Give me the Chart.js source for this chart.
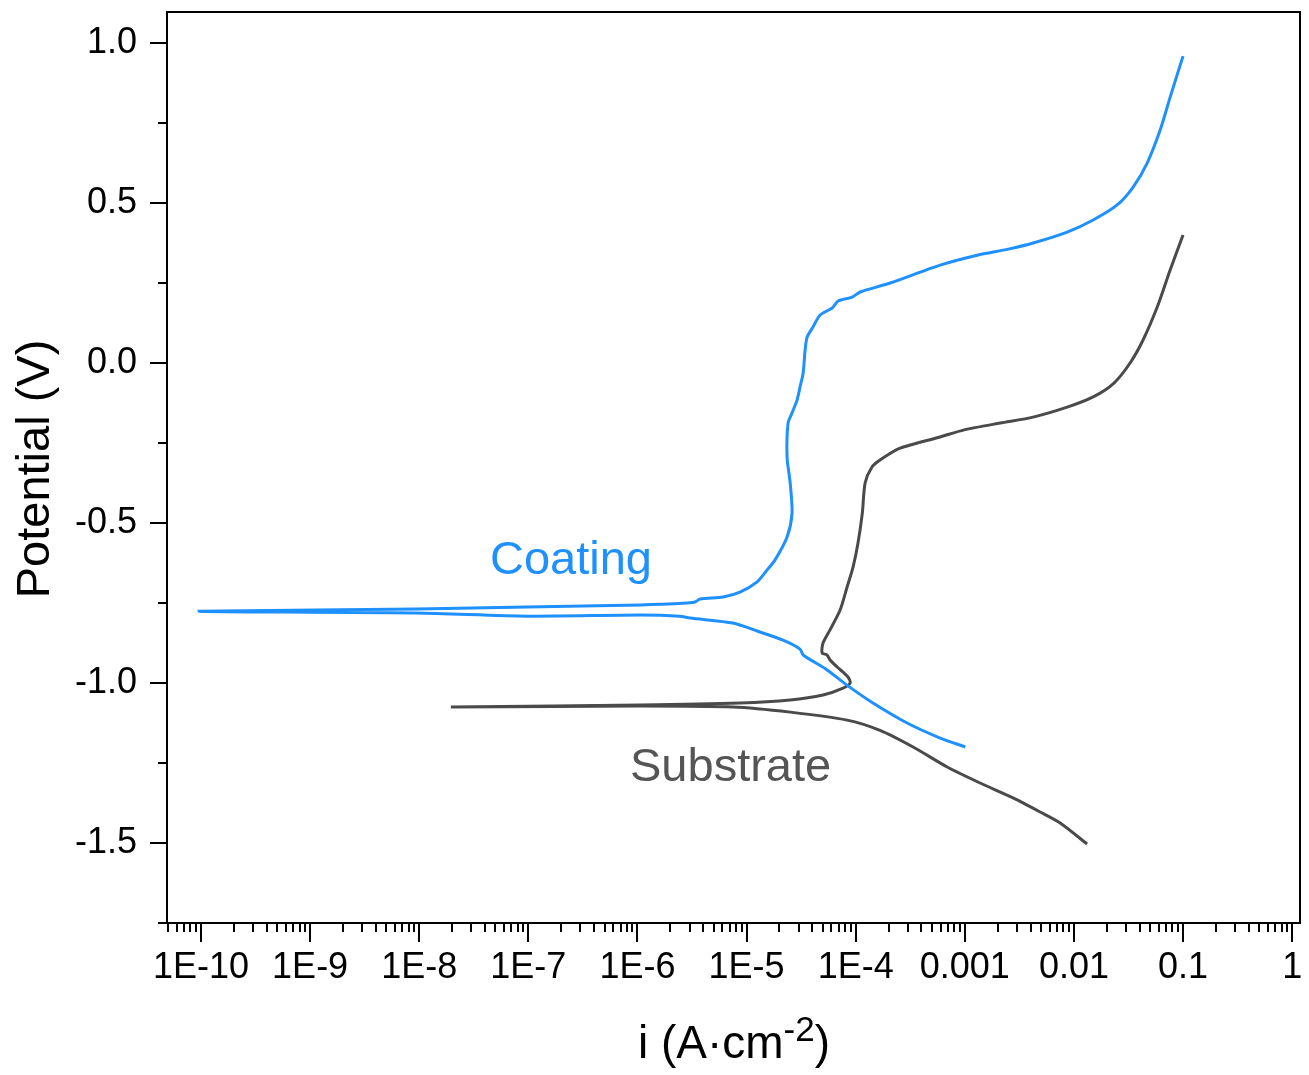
<!DOCTYPE html>
<html>
<head>
<meta charset="utf-8">
<script src="https://cdn.jsdelivr.net/npm/chart.js@4.4.1/dist/chart.umd.min.js"></script>
<style>
  html, body { margin: 0; padding: 0; background: #ffffff; }
  #wrap { width: 1309px; height: 1075px; }
</style>
</head>
<body>
<div id="wrap"><canvas id="c" width="1309" height="1075"></canvas></div>
<script>
// ---- Data (current density in A/cm^2, potential in V), ordered along the scan ----
const coatingI = [1.01e-3, 5.94e-4, 2.96e-4, 1.44e-4, 8.5e-5, 5.47e-5, 3.3e-5, 3.09e-5, 2.16e-5, 1.25e-5,
  7.5e-6, 3.03e-6, 2.45e-6, 1.06e-6, 9.7e-8, 9.5e-9, 9.6e-11,
  9.5e-9, 9.7e-8, 1.06e-6, 2.85e-6, 3.37e-6, 3.75e-6, 6.1e-6, 8.7e-6, 1.25e-5, 1.54e-5, 1.82e-5,
  2.35e-5, 2.61e-5, 2.51e-5, 2.35e-5, 2.40e-5, 2.61e-5, 2.90e-5, 3.09e-5, 3.30e-5, 3.44e-5, 3.59e-5,
  4.06e-5, 4.72e-5, 6.08e-5, 6.9e-5, 9.27e-5, 1.10e-4, 2.07e-4, 5.94e-4, 1.3e-3, 2.5e-3, 4.23e-3,
  8.67e-3, 0.0150, 0.0249, 0.0349, 0.0469, 0.0617, 0.0762, 0.100];
const coatingE = [-1.200, -1.172, -1.125, -1.0625, -1.009, -0.959, -0.9125, -0.894, -0.866, -0.8375,
  -0.8125, -0.797, -0.791, -0.7875, -0.791, -0.781, -0.776,
  -0.769, -0.7625, -0.756, -0.75, -0.747, -0.7375, -0.731, -0.716, -0.684, -0.647, -0.616,
  -0.544, -0.469, -0.375, -0.294, -0.1875, -0.156, -0.116, -0.075, -0.031, 0.041, 0.081,
  0.1125, 0.15, 0.172, 0.194, 0.206, 0.222, 0.25, 0.306, 0.337, 0.356, 0.375,
  0.409, 0.447, 0.494, 0.550, 0.625, 0.728, 0.831, 0.959];

const substrateI = [0.0132, 7.48e-3, 4.90e-3, 2.77e-3, 1.38e-3, 6.89e-4, 3.36e-4, 1.67e-4, 8.34e-5,
  2.51e-5, 7.5e-6, 1.06e-6, 1.95e-8,
  1.06e-6, 8.7e-6, 2.51e-5, 5.02e-5, 7.66e-5, 8.89e-5, 8.5e-5, 7.66e-5, 6.76e-5, 5.82e-5,
  5.47e-5, 4.92e-5, 5.02e-5, 5.82e-5, 7.2e-5, 8.34e-5, 9.46e-5, 1.05e-4, 1.15e-4, 1.22e-4,
  1.41e-4, 1.67e-4, 2.55e-4, 5.94e-4, 9.87e-4, 2.11e-3, 4.23e-3, 8.67e-3, 0.0150, 0.0233,
  0.0327, 0.0430, 0.0580, 0.0762, 0.100];
const substrateE = [-1.503, -1.4375, -1.403, -1.359, -1.3125, -1.2625, -1.2, -1.148, -1.116,
  -1.091, -1.075, -1.072, -1.075,
  -1.069, -1.0625, -1.053, -1.0375, -1.016, -1.0, -0.981, -0.966, -0.95, -0.928,
  -0.9125, -0.906, -0.875, -0.834, -0.772, -0.7, -0.6375, -0.5625, -0.469, -0.375,
  -0.325, -0.303, -0.266, -0.231, -0.209, -0.1875, -0.169, -0.138, -0.106, -0.0625,
  0.0, 0.072, 0.175, 0.291, 0.400];

const xTickValues = [1e-10, 1e-9, 1e-8, 1e-7, 1e-6, 1e-5, 1e-4, 1e-3, 1e-2, 1e-1, 1];
const xTickLabels = ['1E-10', '1E-9', '1E-8', '1E-7', '1E-6', '1E-5', '1E-4', '0.001', '0.01', '0.1', '1'];
const yTickValues = [-1.5, -1.0, -0.5, 0.0, 0.5, 1.0];
const yTickLabels = ['-1.5', '-1.0', '-0.5', '0.0', '0.5', '1.0'];

const seriesNames = ['Coating', 'Substrate'];
const xTitle = ['i (A\u00B7cm', '-2', ')'];
const yTitle = 'Potential (V)';

const FONT = '"Liberation Sans", Arial, Helvetica, sans-serif';
const BLUE = '#1E90FF';
const GRAY = '#4a4a4a';

const decor = {
  id: 'decor',
  afterDraw(chart) {
    const { ctx, chartArea: a, scales: { x, y } } = chart;
    ctx.save();
    ctx.strokeStyle = '#000';
    ctx.lineWidth = 2;
    ctx.strokeRect(a.left, a.top, a.right - a.left, a.bottom - a.top);
    ctx.beginPath();
    for (let d = -11; d <= 0; d++) {
      for (let m = 1; m <= 9; m++) {
        const v = m * Math.pow(10, d);
        if (v < x.min || v > x.max) continue;
        const px = Math.round(x.getPixelForValue(v));
        const len = m === 1 ? 19 : 9;
        ctx.moveTo(px, a.bottom);
        ctx.lineTo(px, a.bottom + len);
      }
    }
    for (let k = -7; k <= 4; k++) {
      const v = k * 0.25;
      if (v < y.min || v > y.max) continue;
      const py = Math.round(y.getPixelForValue(v));
      const len = (k % 2 === 0) ? 17 : 9;
      ctx.moveTo(a.left, py);
      ctx.lineTo(a.left - len, py);
    }
    ctx.stroke();

    // axis titles
    ctx.fillStyle = '#000';
    ctx.font = '47px ' + FONT;
    ctx.textAlign = 'center';
    ctx.textBaseline = 'alphabetic';
    ctx.save();
    ctx.translate(49, 469);
    ctx.rotate(-Math.PI / 2);
    ctx.fillText(yTitle, 0, 0);
    ctx.restore();

    const mainF = '46px ' + FONT, supF = '35px ' + FONT;
    ctx.font = mainF; const w1 = ctx.measureText(xTitle[0]).width;
    const w3 = ctx.measureText(xTitle[2]).width;
    ctx.font = supF; const w2 = ctx.measureText(xTitle[1]).width;
    const total = w1 + w2 + w3;
    let sx = 734 - total / 2;
    ctx.textAlign = 'left';
    ctx.font = mainF; ctx.fillText(xTitle[0], sx, 1058); sx += w1;
    ctx.font = supF; ctx.fillText(xTitle[1], sx, 1041); sx += w2;
    ctx.font = mainF; ctx.fillText(xTitle[2], sx, 1058);

    // series annotations
    ctx.font = '47px ' + FONT;
    ctx.fillStyle = BLUE;
    ctx.fillText(seriesNames[0], 490, 574);
    ctx.fillStyle = '#555555';
    ctx.fillText(seriesNames[1], 630, 781);
    ctx.restore();
  }
};

new Chart(document.getElementById('c'), {
  type: 'scatter',
  data: {
    datasets: [
      { label: seriesNames[0], data: coatingI.map((v, i) => ({ x: v, y: coatingE[i] })),
        showLine: true, borderColor: BLUE, backgroundColor: BLUE, borderWidth: 3,
        pointRadius: 0, tension: 0.25, fill: false },
      { label: seriesNames[1], data: substrateI.map((v, i) => ({ x: v, y: substrateE[i] })),
        showLine: true, borderColor: GRAY, backgroundColor: GRAY, borderWidth: 3,
        pointRadius: 0, tension: 0.25, fill: false }
    ]
  },
  options: {
    responsive: false,
    animation: false,
    layout: { padding: { left: 0, top: 12, right: 9, bottom: 0 } },
    plugins: { legend: { display: false }, tooltip: { enabled: false } },
    scales: {
      x: {
        type: 'logarithmic',
        min: 4.88e-11, max: 1.18,
        afterFit(s) { s.height = 152; s.paddingLeft = 0; s.paddingRight = 0; },
        afterBuildTicks(s) { s.ticks = xTickValues.map(v => ({ value: v })); },
        ticks: { callback: (v, i) => xTickLabels[i], font: { family: FONT, size: 36 }, color: '#000',
                 padding: 4, autoSkip: false, maxRotation: 0, minRotation: 0 },
        grid: { drawOnChartArea: false, drawTicks: true, tickLength: 19, tickColor: 'rgba(0,0,0,0)' },
        border: { display: false }
      },
      y: {
        type: 'linear',
        min: -1.75, max: 1.097,
        afterFit(s) { s.width = 167; s.paddingTop = 0; s.paddingBottom = 0; },
        afterBuildTicks(s) { s.ticks = yTickValues.map(v => ({ value: v })); },
        ticks: { callback: (v, i) => yTickLabels[i], font: { family: FONT, size: 36 }, color: '#000',
                 padding: 13, autoSkip: false },
        grid: { drawOnChartArea: false, drawTicks: true, tickLength: 17, tickColor: 'rgba(0,0,0,0)' },
        border: { display: false }
      }
    }
  },
  plugins: [decor]
});
</script>
</body>
</html>
